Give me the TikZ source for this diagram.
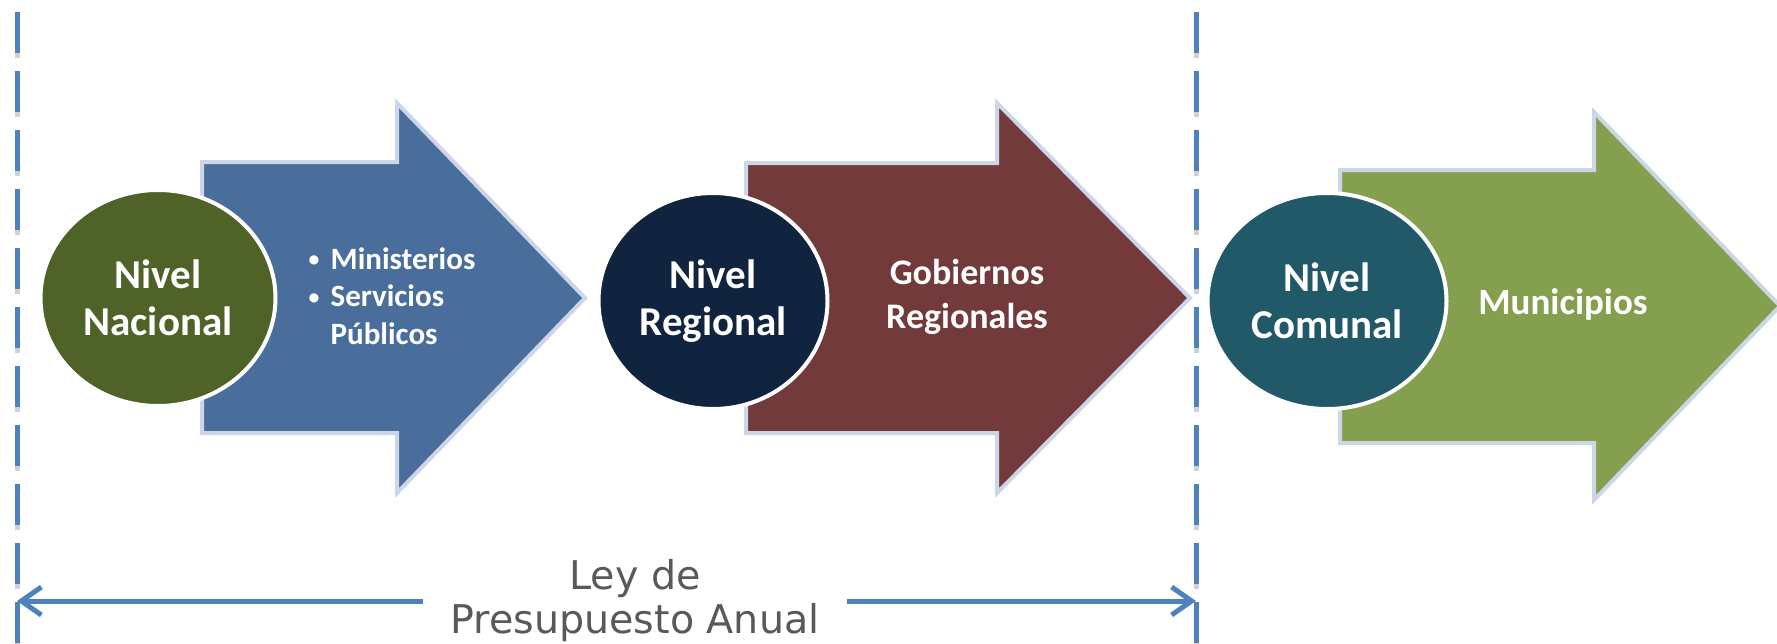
\documentclass[tikz,border=0pt]{standalone}
\usepackage{fontspec}
\setmainfont{Carlito}
\newfontfamily\lawfont{DejaVu Sans}
\definecolor{nac}{HTML}{4F6228}
\definecolor{reg}{HTML}{10243F}
\definecolor{com}{HTML}{215968}
\definecolor{ministry}{HTML}{4A6E9C}
\definecolor{gore}{HTML}{733A3B}
\definecolor{muni}{HTML}{84A04F}
\definecolor{rim}{HTML}{CDD5E8}
\definecolor{span}{HTML}{4F81BD}
\definecolor{law}{HTML}{595959}
\usetikzlibrary{
  shapes.geometric,  % ellipses for the levels
  arrows.meta        % open tips of the budget line
}
\newcommand{\itemdot}{\makebox[22pt][l]{\raisebox{2.5pt}{\scalebox{0.7}{\textbullet}}}}
\tikzset{
    tier/.style = {
        ellipse,
        draw=white,
        line width=4pt,
        inner sep=0pt,
        minimum width=235pt,
        minimum height=216pt,
        align=center,
        text=white,
        font=\bfseries\fontsize{41}{47}\selectfont
    },
    nac/.append style = {fill = nac},
    reg/.append style = {fill = reg},
    com/.append style = {fill = com},
    body/.style = {draw=rim, line width=4pt, line join=miter},
    blurb/.style = {text=white, align=center, font=\bfseries\fontsize{36}{44}\selectfont},
    items/.append style = {blurb, align=left, font=\bfseries\fontsize{31}{37.5}\selectfont},
    cut/.style = {draw=span, line width=5pt, dash pattern=on 41pt off 18pt},
    cutshadow/.style = {cut, draw=black!18, transform canvas={yshift=-5pt}},
    budget/.style = {draw=span, line width=5pt, -{Straight Barb[length=20pt,width=28pt]}},
    law/.style = {text=law, align=center, inner xsep=27pt, font=\lawfont\fontsize{39.6}{44}\selectfont}
}

\begin{document}
\begin{tikzpicture}[x=1pt, y=-1pt]
  \useasboundingbox (0,0) rectangle (1777,643);

  %% limits of the budget law
  \coordinate (LDtop) at (17,12);
  \coordinate (LDbot) at (17,643);
  \coordinate (RDtop) at (1196,12);
  \coordinate (RDbot) at (1196,643);
  \draw [cutshadow] (LDtop) -- (LDbot);
  \draw [cutshadow] (RDtop) -- (RDbot);
  \draw [cut] (LDtop) -- (LDbot);
  \draw [cut] (RDtop) -- (RDbot);

  %% Nivel Nacional
  \draw [body, fill=ministry] (202,162) -- (397,162) -- (397,103) -- (585,298)
    -- (397,493) -- (397,433) -- (202,433) -- cycle;
  \node [tier, nac] (nacional) at (158,298) {Nivel\\Nacional};
  \node [items] (ministerios) at (392,296) {%
    \itemdot Ministerios\\
    \itemdot Servicios\\
    \hspace*{22pt}Públicos};

  %% Nivel Regional
  \draw [body, fill=gore] (746,163) -- (997,163) -- (997,103) -- (1190,298)
    -- (997,493) -- (997,433) -- (746,433) -- cycle;
  \node [tier, reg, minimum width=229pt] (regional) at (713,301) {Nivel\\Regional};
  \node [blurb] (gobiernos) at (967,297) {Gobiernos\\Regionales};

  %% Nivel Comunal
  \draw [body, fill=muni] (1340,170) -- (1594,170) -- (1594,112) -- (1780,306)
    -- (1594,500) -- (1594,443) -- (1340,443) -- cycle;
  \node [tier, com, minimum width=239pt] (comunal) at (1327,301) {Nivel\\Comunal};
  \node [blurb, font=\bfseries\fontsize{37}{44}\selectfont] (municipios) at (1563,304) {Municipios};

  %% budget law
  \node [law] (ley) at (635,601) {Ley de\\Presupuesto Anual};
  \draw [budget] (ley.west) -- (ley.west -| LDtop);
  \draw [budget] (ley.east) -- (ley.east -| RDtop);

\end{tikzpicture}
\end{document}
